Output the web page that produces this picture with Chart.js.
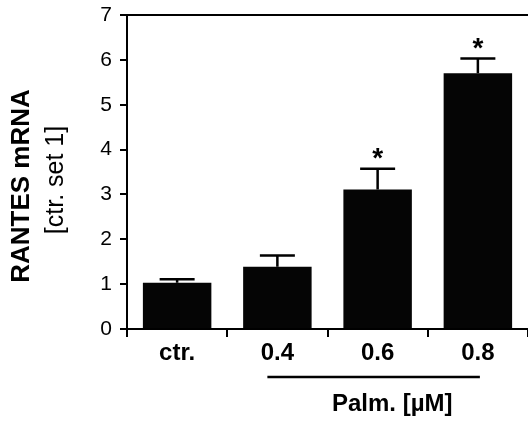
<!DOCTYPE html>
<html><head><meta charset="utf-8">
<script src="https://cdn.jsdelivr.net/npm/chart.js@4"></script>
<style>html,body{margin:0;padding:0;background:#fff}#wrap{width:528px;height:421px}</style>
</head><body><div id="wrap"><canvas id="c" width="528" height="421"></canvas></div>
<script>
const categories = ['ctr.', '0.4', '0.6', '0.8'];
const means = [1.03, 1.39, 3.11, 5.70];
const errUpper = [1.11, 1.64, 3.57, 6.03];
const significant = [false, false, true, true];
const yTicks = [0, 1, 2, 3, 4, 5, 6, 7];
const yTitle = 'RANTES mRNA';
const ySubtitle = '[ctr. set 1]';
const groupLabel = 'Palm. [\u00B5M]';

const FONT = '"Liberation Sans", Arial, Helvetica, sans-serif';

const extras = {
  id: 'extras',
  afterDatasetsDraw(chart) {
    const ctx = chart.ctx, x = chart.scales.x, y = chart.scales.y;
    ctx.save();
    ctx.strokeStyle = '#000';
    ctx.fillStyle = '#000';
    // top frame line
    ctx.lineWidth = 2;
    ctx.beginPath(); ctx.moveTo(120, y.getPixelForValue(7)); ctx.lineTo(528, y.getPixelForValue(7)); ctx.stroke();
    // error bars
    ctx.lineWidth = 2.5;
    means.forEach((m, i) => {
      const cx = x.getPixelForValue(i);
      const y0 = y.getPixelForValue(m), y1 = y.getPixelForValue(errUpper[i]);
      ctx.beginPath(); ctx.moveTo(cx, y0); ctx.lineTo(cx, y1);
      ctx.moveTo(cx - 17.5, y1); ctx.lineTo(cx + 17.5, y1); ctx.stroke();
      if (significant[i]) {
        ctx.font = 'bold 28px ' + FONT;
        ctx.textAlign = 'center'; ctx.textBaseline = 'alphabetic';
        ctx.fillText('*', cx, y1 - 17 + 15.5);
      }
    });
    // group line
    ctx.lineWidth = 2.5;
    const gy = 377;
    ctx.beginPath(); ctx.moveTo(x.getPixelForValue(1) - 10, gy); ctx.lineTo(x.getPixelForValue(3) + 2, gy); ctx.stroke();
    ctx.font = 'bold 24px ' + FONT;
    ctx.textAlign = 'left'; ctx.textBaseline = 'middle';
    ctx.fillText(groupLabel, 332, 404);
    // y titles
    ctx.save();
    ctx.translate(22, 186); ctx.rotate(-Math.PI / 2);
    ctx.font = 'bold 26px ' + FONT; ctx.textAlign = 'center'; ctx.textBaseline = 'middle';
    ctx.fillText(yTitle, 0, 0);
    ctx.restore();
    ctx.save();
    ctx.translate(56, 180); ctx.rotate(-Math.PI / 2);
    ctx.font = '25px ' + FONT; ctx.textAlign = 'center'; ctx.textBaseline = 'middle';
    ctx.fillText(ySubtitle, 0, 0);
    ctx.restore();
    // extend bottom axis to right edge
    ctx.lineWidth = 2;
    ctx.beginPath(); ctx.moveTo(120, y.getPixelForValue(0)); ctx.lineTo(528, y.getPixelForValue(0)); ctx.stroke();
    ctx.restore();
  }
};

new Chart(document.getElementById('c'), {
  type: 'bar',
  data: {
    labels: categories,
    datasets: [{
      data: means,
      backgroundColor: '#050505',
      borderWidth: 0,
      barPercentage: 0.683,
      categoryPercentage: 1
    }]
  },
  options: {
    responsive: false,
    animation: false,
    devicePixelRatio: 1,
    layout: { padding: { left: 0, right: -6, top: 15, bottom: 0 } },
    plugins: { legend: { display: false }, tooltip: { enabled: false } },
    scales: {
      x: {
        grid: { display: true, drawOnChartArea: false, drawTicks: true, tickLength: 8, color: '#000', lineWidth: 2 },
        border: { display: true, color: '#000', width: 2 },
        ticks: { color: '#000', font: { family: FONT, size: 24, weight: 'bold' }, padding: 2 },
        afterFit(s) { s.height = 92; }
      },
      y: {
        min: 0, max: 7,
        afterBuildTicks(s) { s.ticks = yTicks.map(v => ({ value: v })); },
        grid: { display: true, drawOnChartArea: false, drawTicks: true, tickLength: 7, color: '#000', lineWidth: 2 },
        border: { display: true, color: '#000', width: 2 },
        ticks: { color: '#000', font: { family: FONT, size: 21, lineHeight: 0.6 }, padding: 8 },
        afterFit(s) { s.width = 127; }
      }
    }
  },
  plugins: [extras]
});
</script></body></html>
